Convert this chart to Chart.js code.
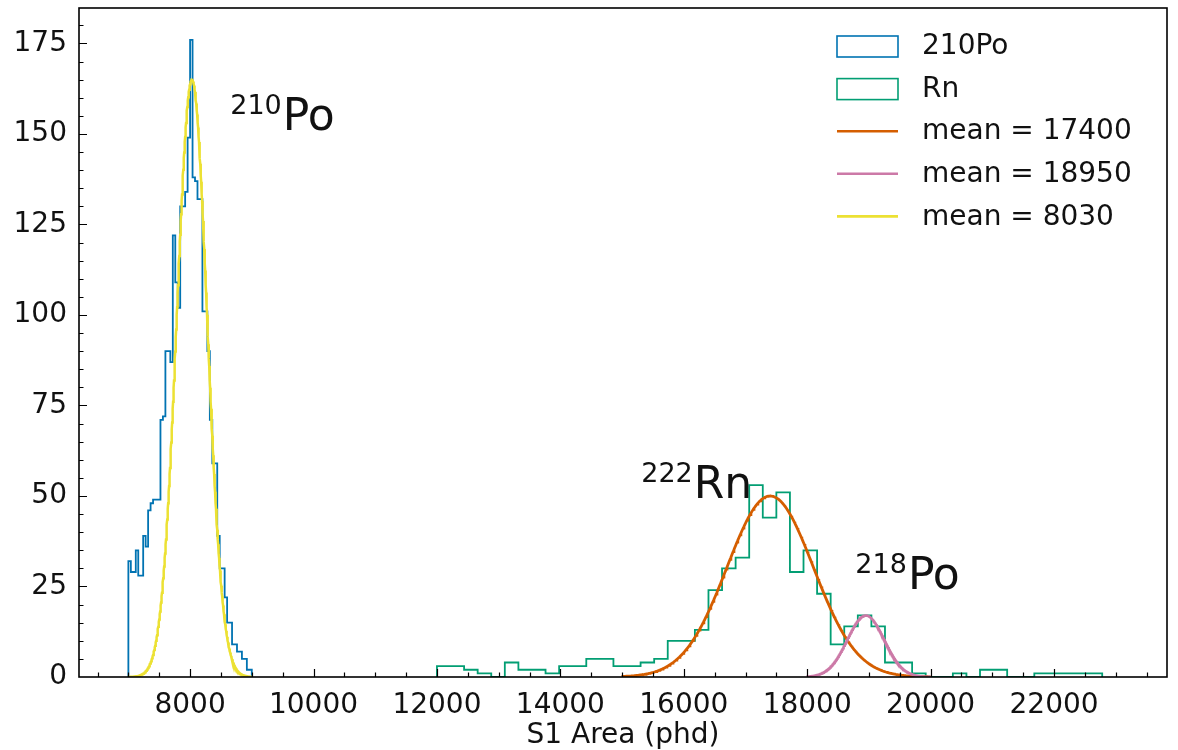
<!DOCTYPE html>
<html>
<head>
<meta charset="utf-8">
<title>S1 Area</title>
<script src="https://cdn.jsdelivr.net/npm/chart.js@4.4.1/dist/chart.umd.min.js"></script>
<style>
  html, body { margin: 0; padding: 0; background: #fff; }
  #wrap { width: 1178px; height: 750px; }
</style>
</head>
<body>
<div id="wrap"><canvas id="chart"></canvas></div>
<script>
'use strict'

/* global Chart */

// 210Po histogram: first bin edge, bin width, counts per bin
const poStart = 7000
const poWidth = 40
const poCounts = [32, 29, 29, 35, 28, 28, 39, 36, 46, 48,
  49, 49, 49, 71, 72, 90, 90, 87, 122, 109,
  102, 130, 130, 134, 149, 176, 138, 137, 132, 132,
  101, 101, 90, 71, 59, 59, 39, 30, 30, 22,
  15, 15, 9, 9, 7, 7, 5, 5, 2, 2]

// Rn histogram
const rnStart = 12000
const rnWidth = 220
const rnCounts = [3, 3, 2, 1, 0, 4, 2, 2, 1, 3,
  3, 5, 5, 3, 3, 4, 5, 10, 10, 13,
  24, 30, 33, 53, 44, 51, 29, 35, 23, 9,
  14, 17, 14, 4, 4, 1, 0, 0, 1, 0,
  2, 2, 0, 0, 1, 1, 1, 1, 1]

// gaussian fit results
const fitLabels = ['mean = 17400', 'mean = 18950', 'mean = 8030']
const fitMeans = [17400, 18950, 8030]
const fitSigmas = [700, 300, 245]
const fitAmps = [50, 17, 165]
const fitFrom = [15000, 18000, 7000]
const fitTo = [20000, 20000, 9000]

const histLabels = ['210Po', 'Rn']

const xTicks = [8000, 10000, 12000, 14000, 16000, 18000, 20000, 22000]
const yTicks = [0, 25, 50, 75, 100, 125, 150, 175]

// peak labels: isotope mass, symbol, x/y in data units (left edge, baseline)
const peakMass = ['210', '222', '218']
const peakName = ['Po', 'Rn', 'Po']
const peakX = [8650, 15310, 18780]
const peakY = [151, 49.5, 24.3]

const colors = {
  po: '#0173b2',
  rn: '#029e73',
  rnFit: '#d55e00',
  po218Fit: '#cc79a7',
  po210Fit: '#ece133'
}

function stepOutline (start, width, counts) {
  const pts = [{ x: start, y: 0 }]
  counts.forEach((c, i) => {
    pts.push({ x: start + i * width, y: c })
    pts.push({ x: start + (i + 1) * width, y: c })
  })
  pts.push({ x: start + counts.length * width, y: 0 })
  return pts
}

function gaussCurve (i) {
  const pts = []
  const n = 400
  for (let k = 0; k <= n; k++) {
    const x = fitFrom[i] + (fitTo[i] - fitFrom[i]) * k / n
    const d = (x - fitMeans[i]) / fitSigmas[i]
    pts.push({ x, y: fitAmps[i] * Math.exp(-0.5 * d * d) })
  }
  return pts
}

// axis frame + inward major/minor ticks
const frameTicks = {
  id: 'frameTicks',
  afterDatasetsDraw (chart) {
    const { ctx, chartArea: a, scales } = chart
    ctx.save()
    ctx.strokeStyle = '#000'
    ctx.lineWidth = 1.2
    ctx.beginPath()
    for (let v = 6500; v <= 23500; v += 500) {
      const px = Math.round(scales.x.getPixelForValue(v)) + 0.5
      const len = v % 2000 === 0 ? 8 : 4.5
      ctx.moveTo(px, a.bottom)
      ctx.lineTo(px, a.bottom - len)
    }
    for (let v = 5; v <= 180; v += 5) {
      const py = Math.round(scales.y.getPixelForValue(v)) + 0.5
      const len = v % 25 === 0 ? 8 : 4.5
      ctx.moveTo(a.left, py)
      ctx.lineTo(a.left + len, py)
    }
    ctx.stroke()
    ctx.lineWidth = 1.6
    ctx.strokeRect(a.left, a.top, a.right - a.left, a.bottom - a.top)
    ctx.restore()
  }
}

const legendBox = {
  id: 'legendBox',
  afterDraw (chart) {
    const { ctx, chartArea: a } = chart
    const entries = [
      { label: histLabels[0], color: colors.po, box: true },
      { label: histLabels[1], color: colors.rn, box: true },
      { label: fitLabels[0], color: colors.rnFit },
      { label: fitLabels[1], color: colors.po218Fit },
      { label: fitLabels[2], color: colors.po210Fit }
    ]
    const x0 = a.right - 330
    ctx.save()
    ctx.font = '28px "DejaVu Sans"'
    ctx.textBaseline = 'middle'
    entries.forEach((e, i) => {
      const cy = a.top + 38 + i * 42.6
      ctx.strokeStyle = e.color
      if (e.box) {
        ctx.lineWidth = 1.6
        ctx.strokeRect(x0, cy - 10, 61, 21)
      } else {
        ctx.lineWidth = 2.6
        ctx.beginPath()
        ctx.moveTo(x0, cy)
        ctx.lineTo(x0 + 61, cy)
        ctx.stroke()
      }
      ctx.fillStyle = '#111'
      ctx.fillText(e.label, x0 + 85, cy + 1)
    })
    ctx.restore()
  }
}

const peakText = {
  id: 'peakText',
  afterDraw (chart) {
    const { ctx, scales } = chart
    ctx.save()
    ctx.fillStyle = '#111'
    ctx.textBaseline = 'alphabetic'
    peakMass.forEach((m, i) => {
      const px = scales.x.getPixelForValue(peakX[i])
      const py = scales.y.getPixelForValue(peakY[i])
      ctx.font = '27px "DejaVu Sans"'
      ctx.fillText(m, px, py - 16)
      const w = ctx.measureText(m).width
      ctx.font = '44px "DejaVu Sans"'
      ctx.fillText(peakName[i], px + w + 1, py)
    })
    ctx.restore()
  }
}

Chart.defaults.font.family = '"DejaVu Sans"'
Chart.defaults.color = '#111'

const datasets = [
  {
    label: fitLabels[2],
    data: gaussCurve(2),
    borderColor: colors.po210Fit,
    borderWidth: 2.5,
    order: 0
  },
  {
    label: histLabels[0],
    data: stepOutline(poStart, poWidth, poCounts),
    borderColor: colors.po,
    borderWidth: 1.8,
    order: 4
  },
  {
    label: histLabels[1],
    data: stepOutline(rnStart, rnWidth, rnCounts),
    borderColor: colors.rn,
    borderWidth: 1.8,
    order: 3
  },
  {
    label: fitLabels[0],
    data: gaussCurve(0),
    borderColor: colors.rnFit,
    borderWidth: 2.8,
    order: 2
  },
  {
    label: fitLabels[1],
    data: gaussCurve(1),
    borderColor: colors.po218Fit,
    borderWidth: 2.5,
    order: 1
  }
].map(d => Object.assign({ showLine: true, pointRadius: 0, fill: false, tension: 0 }, d))

// keep the plot box fixed: no extra room reserved for edge tick labels
function noEdgePadding (s) {
  s.paddingTop = 0
  s.paddingBottom = 0
  s.paddingLeft = 0
  s.paddingRight = 0
}

const chart = new Chart(document.getElementById('chart'), {
  type: 'scatter',
  data: { datasets },
  options: {
    responsive: true,
    maintainAspectRatio: false,
    animation: false,
    devicePixelRatio: 1,
    layout: { padding: { top: 8, right: 11, left: 0, bottom: 0 } },
    plugins: {
      legend: { display: false },
      tooltip: { enabled: false }
    },
    scales: {
      x: {
        type: 'linear',
        min: 6200,
        max: 23830,
        grid: { display: false, drawTicks: false },
        border: { display: false },
        afterBuildTicks: (s) => { s.ticks = xTicks.map(v => ({ value: v })) },
        afterFit: (s) => { s.height = 73; noEdgePadding(s) },
        ticks: {
          font: { size: 28 },
          padding: 12,
          maxRotation: 0,
          autoSkip: false,
          callback: (v) => String(v)
        },
        title: {
          display: true,
          text: 'S1 Area (phd)',
          font: { size: 28 },
          padding: { top: 0, bottom: -3 }
        }
      },
      y: {
        type: 'linear',
        min: 0,
        max: 184.8,
        grid: { display: false, drawTicks: false },
        border: { display: false },
        afterBuildTicks: (s) => { s.ticks = yTicks.map(v => ({ value: v })) },
        afterFit: (s) => { s.width = 79; noEdgePadding(s) },
        ticks: {
          font: { size: 28 },
          padding: 12,
          autoSkip: false,
          callback: (v) => String(v)
        }
      }
    }
  },
  plugins: [frameTicks, legendBox, peakText]
})
</script>
</body>
</html>
